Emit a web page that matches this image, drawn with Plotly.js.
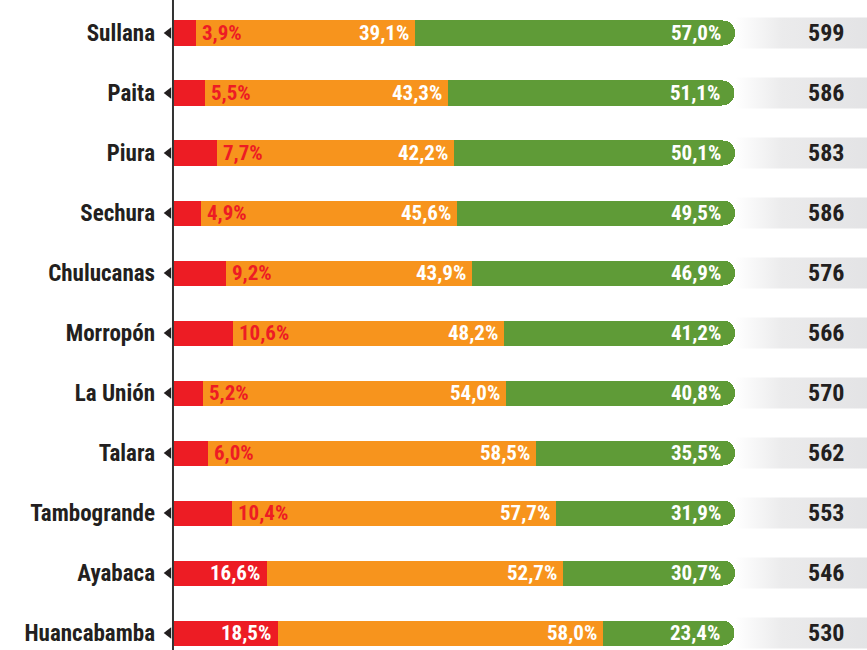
<!DOCTYPE html>
<html><head><meta charset="utf-8">
<script src="https://cdn.plot.ly/plotly-3.0.1.min.js"></script>
<style>html,body{margin:0;padding:0;background:#fff}#chart{width:867px;height:650px}</style>
</head><body><div id="chart"></div>
<script>
const categories = ['Sullana','Paita','Piura','Sechura','Chulucanas','Morropón','La Unión','Talara','Tambogrande','Ayabaca','Huancabamba'];
const redValues = [3.9,5.5,7.7,4.9,9.2,10.6,5.2,6.0,10.4,16.6,18.5];
const orangeValues = [39.1,43.3,42.2,45.6,43.9,48.2,54.0,58.5,57.7,52.7,58.0];
const greenValues = [57.0,51.1,50.1,49.5,46.9,41.2,40.8,35.5,31.9,30.7,23.4];
const totals = [599,586,583,586,576,566,570,562,553,546,530];

const FONT = "'Liberation Sans Narrow','Roboto Condensed','DejaVu Sans Condensed',Arial,sans-serif";
const RED = '#ed1c24', ORANGE = '#f7941d', GREEN = '#5f9b37', DARK = '#231f20';
const fmt = v => v.toFixed(1).replace('.', ',') + '%';

const idx = categories.map((_, i) => i);
const traces = [];

// gradient boxes behind totals
const bx = [], by = [];
idx.forEach(i => {
  bx.push(100, 124, 124, 100, 100, null);
  by.push(i - 0.258, i - 0.258, i + 0.258, i + 0.258, i - 0.258, null);
});
traces.push({type:'scatter', x:bx, y:by, mode:'none', fill:'toself', hoverinfo:'skip', showlegend:false,
  fillgradient:{type:'horizontal', colorscale:[[0,'#ffffff'],[0.35,'#ebebec'],[1,'#e3e3e5']]}});

const barBase = {type:'bar', orientation:'h', width:0.417, hoverinfo:'skip', showlegend:false};
traces.push(Object.assign({}, barBase, {x:redValues, y:idx, marker:{color:RED, line:{width:0}}}));
traces.push(Object.assign({}, barBase, {x:orangeValues, y:idx, marker:{color:ORANGE, line:{width:0}}}));
traces.push(Object.assign({}, barBase, {x:greenValues, y:idx, marker:{color:GREEN, line:{width:0}, cornerradius:12}}));

// tick triangles
traces.push({type:'scatter', x:idx.map(() => -0.95), y:idx, mode:'markers', hoverinfo:'skip', showlegend:false,
  marker:{symbol:'triangle-left', size:10, color:DARK}});

const annotations = [];
idx.forEach(i => {
  const r = redValues[i], o = orangeValues[i], g = greenValues[i];
  const small = r < 15;
  annotations.push({x:r, y:i, xref:'x', yref:'y', text:fmt(r), showarrow:false,
    xanchor: small ? 'left' : 'right', xshift: small ? 4 : -5,
    font:{family:FONT, size:21, color: small ? RED : '#ffffff', weight:700}});
  annotations.push({x:r + o, y:i, xref:'x', yref:'y', text:fmt(o), showarrow:false,
    xanchor:'right', xshift:-4, font:{family:FONT, size:21, color:'#ffffff', weight:700}});
  annotations.push({x:r + o + g, y:i, xref:'x', yref:'y', text:fmt(g), showarrow:false,
    xanchor:'right', xshift:-12, font:{family:FONT, size:21, color:'#ffffff', weight:700}});
  annotations.push({x:116.3, y:i, xref:'x', yref:'y', text:String(totals[i]), showarrow:false,
    xanchor:'center', font:{family:FONT, size:24, color:DARK, weight:700}});
});

const layout = {
  width:867, height:650,
  margin:{l:160, r:0, t:0, b:0},
  paper_bgcolor:'#fff', plot_bgcolor:'#fff',
  barmode:'stack', bargap:0,
  showlegend:false,
  xaxis:{range:[-2.4955,123.53], visible:false, fixedrange:true},
  yaxis:{range:[10.283,-0.55], tickvals:idx, ticktext:categories, showgrid:false, zeroline:false,
    showline:false, ticks:'', ticklabelstandoff:4,
    tickfont:{family:FONT, size:23, color:DARK, weight:700}},
  shapes:[{type:'line', xref:'x', yref:'paper', x0:-0.18, x1:-0.18, y0:0, y1:1, layer:'above',
    line:{color:'#333333', width:2}}],
  annotations:annotations
};
Plotly.newPlot('chart', traces, layout, {displayModeBar:false, staticPlot:true});
</script></body></html>
